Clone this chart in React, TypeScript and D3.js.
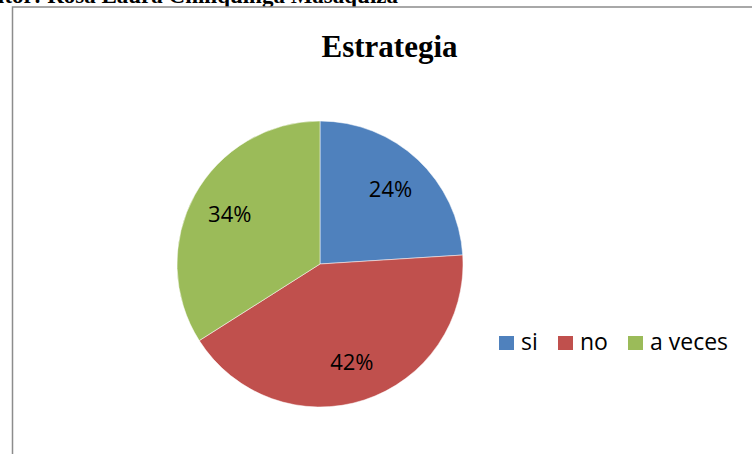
import React from "react";
import * as d3 from "d3";

const categories = ["si", "no", "a veces"];
const values = [24, 42, 34];
const colors = ["#4F81BD", "#C0504D", "#9BBB59"];
const title = "Estrategia";
const author = "Autor: Rosa Laura Chiliquinga Masaquiza";

export default function App() {
  const W = 752, H = 454;
  const cx = 320, cy = 264, r = 143;
  const pie = d3.pie<number>().sort(null).value((d) => d)(values);
  const arc = d3.arc<d3.PieArcDatum<number>>().innerRadius(0).outerRadius(r);
  const labelArc = d3.arc<d3.PieArcDatum<number>>().innerRadius(r * 0.72).outerRadius(r * 0.72);
  const total = d3.sum(values);
  const font = "'Open Sans', Calibri, sans-serif";
  const legendX = [499, 558, 628];
  return (
    <svg width={W} height={H} style={{ position: "absolute", left: 0, top: 0 }}>
      <rect x={0} y={0} width={W} height={H} fill="#fff" />
      <text x={-25} y={2.5} fontFamily="'Liberation Serif', 'Times New Roman', serif" fontWeight="bold" fontSize={23}>
        {author}
      </text>
      <rect x={12.5} y={7} width={W} height={H} fill="#fff" stroke="#8c8c8c" strokeWidth={1.5} />
      <text x={389.5} y={57} textAnchor="middle" fontFamily="'Liberation Serif', 'Times New Roman', serif" fontWeight="bold" fontSize={31}>
        {title}
      </text>
      <g transform={`translate(${cx},${cy})`}>
        {pie.map((d, i) => (
          <path key={i} d={arc(d) || ""} fill={colors[i]} stroke="#fff" strokeWidth={0.5} />
        ))}
        {pie.map((d, i) => {
          const [x, y] = labelArc.centroid(d);
          return (
            <text key={i} x={x} y={y} dy="0.35em" textAnchor="middle" fontFamily={font} fontSize={22} fill="#000">
              {Math.round((values[i] / total) * 100)}%
            </text>
          );
        })}
      </g>
      {categories.map((c, i) => (
        <g key={c}>
          <rect x={legendX[i]} y={336} width={15} height={14} fill={colors[i]} />
          <text x={legendX[i] + 22} y={350} fontFamily={font} fontSize={23} fill="#000">
            {c}
          </text>
        </g>
      ))}
    </svg>
  );
}
